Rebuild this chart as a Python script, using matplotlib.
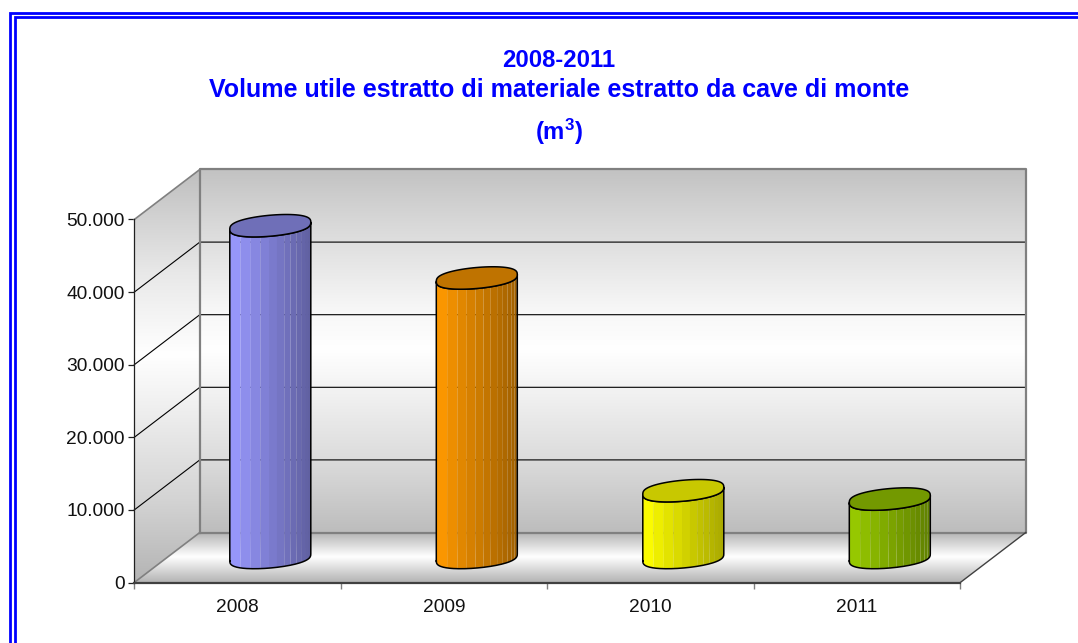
import matplotlib
matplotlib.use("Agg")
import matplotlib.pyplot as plt
import numpy as np
from matplotlib.colors import LinearSegmentedColormap, to_rgb
from matplotlib.lines import Line2D
from matplotlib.patches import Polygon

plt.rcParams["font.family"] = ["Liberation Sans", "DejaVu Sans"]
plt.rcParams["mathtext.fontset"] = "custom"
plt.rcParams["mathtext.bf"] = "Liberation Sans:bold"

years = ["2008", "2009", "2010", "2011"]
volumes = [45700, 38500, 9200, 8050]
y_ticks = [0, 10000, 20000, 30000, 40000, 50000]
y_tick_labels = ["0", "10.000", "20.000", "30.000", "40.000", "50.000"]
title_lines = ["2008-2011", "Volume utile estratto di materiale estratto da cave di monte"]
title_unit = r"$\mathbf{(m^3)}$"

light_colors = ["#9999ff", "#ff9900", "#ffff00", "#99cc00"]
dark_colors = ["#5f5f9f", "#a06000", "#a8a800", "#608000"]
top_colors = ["#6f6fb8", "#bf7300", "#c8c800", "#739900"]

W, H = 1078, 643
BLUE = "#0000ff"

fig = plt.figure(figsize=(W / 100, H / 100), dpi=100)
ax = fig.add_axes([134.3 / W, (H - 582.5) / H, 826 / W, 363 / H])
ax.patch.set_visible(False)

# depth offset of the fake 3d box, in data units
per_x = 826 / 4
per_y = 363 / 50000
dx = 65.5 / per_x
dy = 50 / per_y
ymax = 50000
xmax = 4


def gradient(pts, y0, y1, stops):
    cmap = LinearSegmentedColormap.from_list("g", stops)
    grad = np.linspace(0, 1, 256).reshape(-1, 1)
    xs = [p[0] for p in pts]
    im = ax.imshow(grad, cmap=cmap, origin="lower", aspect="auto", vmin=0, vmax=1,
                   extent=(min(xs), max(xs), y0, y1), interpolation="bilinear", zorder=1)
    im.set_clip_path(Polygon(pts, transform=ax.transData))
    im.set_clip_box(fig.bbox)


wall_stops = [(0, "#bdbdbd"), (0.2, "#dcdcdc"), (0.5, "#ffffff"), (0.62, "#f6f6f6"), (0.85, "#d8d8d8"), (1, "#c2c2c2")]
side_stops = [(0, "#b4b4b4"), (0.2, "#d4d4d4"), (0.55, "#ffffff"), (0.75, "#e8e8e8"), (1, "#bebebe")]
floor_stops = [(0, "#b4b4b4"), (0.5, "#ffffff"), (1, "#b0b0b0")]

# side wall, back wall, floor
gradient([(0, 0), (dx, dy), (dx, ymax + dy), (0, ymax)], 0, ymax + dy, side_stops)
gradient([(dx, dy), (xmax + dx, dy), (xmax + dx, ymax + dy), (dx, ymax + dy)], dy, ymax + dy, wall_stops)
gradient([(0, 0), (xmax, 0), (xmax + dx, dy), (dx, dy)], 0, dy, floor_stops)

# gridlines on side and back wall
for v in y_ticks[1:-1]:
    ax.plot([0, dx, xmax + dx], [v, v + dy, v + dy], color="black", lw=0.8, clip_on=False, zorder=2)

# box outline
grey = "#808080"
ax.plot([dx, dx, xmax + dx, xmax + dx, dx], [dy, ymax + dy, ymax + dy, dy, dy], color=grey, lw=1.6, clip_on=False, zorder=2)
ax.plot([0, dx], [ymax, ymax + dy], color=grey, lw=1.2, clip_on=False, zorder=2)
ax.plot([0, dx], [0, dy], color=grey, lw=1.2, clip_on=False, zorder=2)
ax.plot([xmax, xmax + dx], [0, dy], color="#404040", lw=1.0, clip_on=False, zorder=2)

# cylinders, standing half way into the box
a = 40.5 / per_x
b = 10.5 / per_y
shear = 3.5 / per_y
n_facets = 13


def rim(t):
    # a bit fuller than a plain ellipse, like the original outline
    s = np.sin(t)
    return b * np.sign(s) * np.abs(s) ** 0.75 + shear * np.cos(t)


for i, value in enumerate(volumes):
    cx = i + 0.5 + dx / 2
    base = dy / 2
    top = value + dy / 2
    c0 = np.array(to_rgb(light_colors[i]))
    c1 = np.array(to_rgb(dark_colors[i]))
    # facets get narrower towards the right; the front of the rim runs t = -pi..0
    frac = 1 - (1 - np.linspace(0, 1, n_facets + 1)) ** 1.8
    ts = -np.arccos(np.clip(1 - 2 * frac, -1, 1))
    ts = -np.pi + (-ts)
    for k in range(n_facets):
        t = np.linspace(ts[k], ts[k + 1], 8)
        x = cx + a * np.cos(t)
        f = (x.mean() - (cx - a)) / (2 * a)
        ax.fill(np.r_[x, x[::-1]], np.r_[base + rim(t), (top + rim(t))[::-1]],
                color=c0 + (c1 - c0) * f, lw=0, clip_on=False, zorder=3)
    tf = np.linspace(-np.pi, 0, 80)
    xf = cx + a * np.cos(tf)
    ax.plot(np.r_[xf, xf[::-1], xf[0]], np.r_[base + rim(tf), (top + rim(tf))[::-1], base + rim(tf)[0]],
            color="black", lw=1.1, clip_on=False, zorder=4)
    tt = np.linspace(0, 2 * np.pi, 80)
    ax.fill(cx + a * np.cos(tt), top + rim(tt),
            facecolor=top_colors[i], edgecolor="black", lw=1.1, clip_on=False, zorder=5)

ax.set_xlim(0, xmax)
ax.set_ylim(0, ymax)

for side in ["top", "right"]:
    ax.spines[side].set_visible(False)
ax.spines["left"].set_color("#202020")
ax.spines["left"].set_linewidth(0.9)
ax.spines["bottom"].set_color("#404040")
ax.spines["bottom"].set_linewidth(1.6)
for s in ax.spines.values():
    s.set_zorder(6)

ax.set_yticks(y_ticks)
ax.set_yticklabels(y_tick_labels, fontsize=13.8, color="#111111")
ax.tick_params(axis="y", length=4.3, width=0.9, color="#202020", pad=2.5)
ax.set_xticks(range(xmax + 1))
ax.set_xticklabels([])
ax.set_xticks(np.arange(xmax) + 0.5, minor=True)
ax.set_xticklabels(years, minor=True, fontsize=13.8, color="#111111")
ax.tick_params(axis="x", which="major", length=4.3, width=1.0, color=grey)
ax.tick_params(axis="x", which="minor", length=0, pad=12)

fig.text(559 / W, 1 - 60.5 / H, title_lines[0], color=BLUE, fontsize=17.2, fontweight="bold", ha="center", va="center")
fig.text(559 / W, 1 - 90 / H, title_lines[1], color=BLUE, fontsize=18, fontweight="bold", ha="center", va="center")
fig.text(559 / W, 1 - 131.5 / H, title_unit, color=BLUE, fontsize=17.2, ha="center", va="center")

# double blue frame, only left and top are in the picture
for x, y, lw in [(10.2, 12.9, 2.0), (14.7, 17.3, 2.0)]:
    fig.add_artist(Line2D([x / W, x / W, 1], [0, 1 - y / H, 1 - y / H], color=BLUE, lw=lw, solid_joinstyle="miter"))

fig.savefig("out.png", dpi=100)
